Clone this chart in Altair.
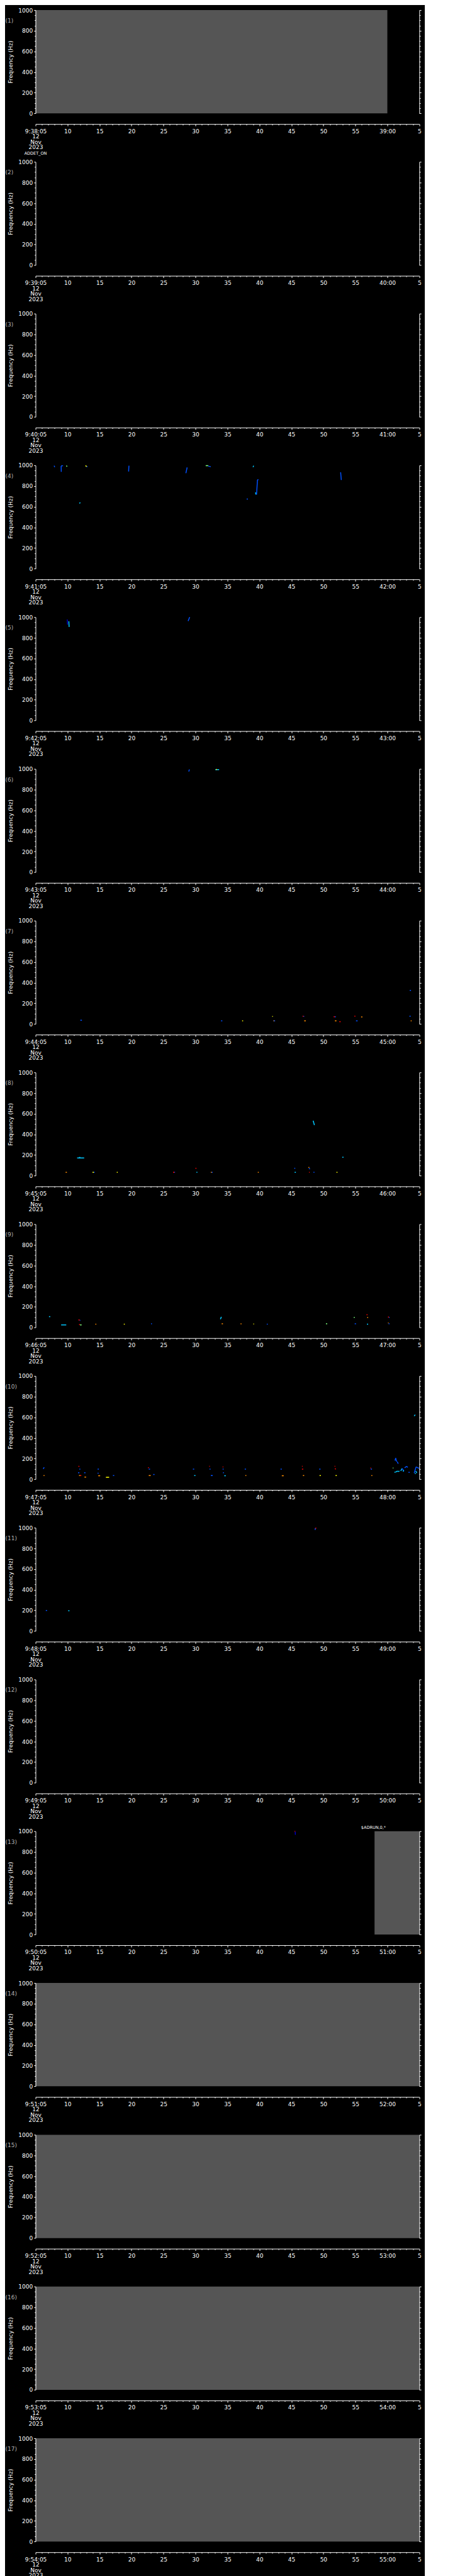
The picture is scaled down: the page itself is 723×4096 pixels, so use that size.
import altair as alt
import pandas as pd

S = 0.705
PLOT_W = 865 * S
PLOT_H = 233 * S
PITCH = 341.25 * S

panel_ids = [1, 2, 3, 4, 5, 6, 7, 8, 9, 10, 11, 12, 13, 14, 15, 16, 17]
start_labels = ["9:38:05", "9:39:05", "9:40:05", "9:41:05", "9:42:05", "9:43:05",
                "9:44:05", "9:45:05", "9:46:05", "9:47:05", "9:48:05", "9:49:05",
                "9:50:05", "9:51:05", "9:52:05", "9:53:05", "9:54:05"]
minute_labels = ["39:00", "40:00", "41:00", "42:00", "43:00", "44:00", "45:00", "46:00",
                 "47:00", "48:00", "49:00", "50:00", "51:00", "52:00", "53:00", "54:00", "55:00"]
date_lines = ["12", "Nov", "2023"]
x_tick_values = [0, 1, 2, 3, 4, 5, 6, 7, 8, 9, 10, 11, 12, 13, 14, 15, 16, 17, 18, 19, 20,
                 21, 22, 23, 24, 25, 26, 27, 28, 29, 30, 31, 32, 33, 34, 35, 36, 37, 38, 39, 40,
                 41, 42, 43, 44, 45, 46, 47, 48, 49, 50, 51, 52, 53, 54, 55, 56, 57, 58, 59, 60]
y_tick_values = [0, 50, 100, 150, 200, 250, 300, 350, 400, 450, 500, 550, 600, 650, 700,
                 750, 800, 850, 900, 950, 1000]

# grey "no data" blocks: panel, start/end (s after panel start), freq range
gray_panel = [1, 13, 14, 15, 16, 17]
gray_t0 = [0, 53, 0, 0, 0, 0]
gray_t1 = [55, 60, 60, 60, 60, 60]
gray_f0 = [0, 0, 0, 0, 0, 0]
gray_f1 = [1000, 1000, 1000, 1000, 1000, 1000]

# spectral traces per panel: (t0, t1, f0, f1, level)
p4 = [(2.9, 3.0, 997, 983, "blue"), (4.0, 4.02, 994, 937, "blue"), (4.0, 4.3, 996, 996, "blue"),
      (4.8, 4.95, 996, 990, "green"), (6.85, 7.0, 632, 640, "cyan"), (7.8, 8.0, 997, 988, "yellow"),
      (8.0, 8.1, 990, 985, "blue"), (14.55, 14.6, 940, 997, "blue"), (23.5, 23.7, 925, 980, "blue"),
      (26.6, 27.0, 997, 997, "green"), (27.0, 27.4, 993, 987, "blue"), (33.0, 33.2, 674, 674, "blue"),
      (34.0, 34.1, 983, 997, "cyan"), (34.4, 34.45, 739, 717, "cyan"), (34.55, 34.7, 717, 861, "blue"),
      (34.7, 34.85, 861, 861, "blue"), (47.7, 47.8, 933, 858, "blue")]
p5 = [(4.95, 5.0, 977, 927, "dkblue"), (5.2, 5.25, 960, 905, "cyan"), (23.85, 24.1, 962, 1000, "blue")]
p6 = [(23.95, 24.05, 975, 994, "blue"), (28.1, 28.7, 993, 993, "cyan"), (28.2, 28.35, 995, 995, "yellow")]
p7 = [(7.0, 7.25, 36, 36, "blue"), (29.0, 29.2, 30, 30, "blue"), (32.3, 32.45, 30, 30, "yellow"),
      (37.0, 37.1, 72, 72, "yellow"), (37.2, 37.45, 30, 30, "blue"), (37.2, 37.3, 30, 30, "orange"),
      (41.75, 41.9, 75, 75, "red"), (41.9, 42.0, 72, 72, "blue"), (42.0, 42.25, 30, 30, "orange"),
      (46.6, 46.8, 70, 70, "red"), (46.8, 46.95, 70, 70, "blue"), (46.8, 47.05, 30, 30, "orange"),
      (47.5, 47.7, 22, 22, "red"), (49.85, 50.0, 75, 75, "red"), (50.1, 50.35, 30, 30, "blue"),
      (50.9, 51.1, 68, 68, "orange"), (58.5, 58.7, 325, 325, "blue"), (58.45, 58.65, 75, 75, "blue"),
      (58.65, 58.8, 30, 30, "orange")]
p8 = [(6.5, 7.6, 172, 172, "cyan"), (6.8, 7.0, 177, 177, "cyan"), (4.7, 4.9, 33, 33, "orange"),
      (8.9, 9.1, 33, 33, "yellow"), (9.1, 9.25, 33, 33, "blue"), (12.7, 12.85, 33, 33, "yellow"),
      (21.5, 21.7, 33, 33, "red"), (21.7, 21.8, 33, 33, "blue"), (25.0, 25.15, 72, 72, "red"),
      (25.15, 25.3, 33, 33, "cyan"), (27.4, 27.55, 33, 33, "orange"), (27.55, 27.7, 33, 33, "blue"),
      (34.75, 34.9, 33, 33, "orange"), (40.45, 40.6, 72, 72, "blue"), (40.5, 40.7, 33, 33, "cyan"),
      (42.65, 42.8, 80, 80, "orange"), (42.75, 42.9, 72, 65, "blue"), (42.75, 42.85, 33, 33, "red"),
      (43.4, 43.6, 533, 490, "cyan"), (43.45, 43.6, 33, 33, "blue"), (47.05, 47.2, 33, 33, "yellow"),
      (47.95, 48.15, 179, 179, "cyan")]
p9 = [(2.1, 2.3, 105, 105, "cyan"), (4.0, 4.8, 25, 25, "cyan"), (6.7, 6.9, 73, 73, "red"),
      (6.9, 7.0, 68, 68, "blue"), (6.8, 6.95, 29, 29, "red"), (6.95, 7.2, 25, 25, "green"),
      (9.35, 9.5, 32, 32, "orange"), (13.8, 13.95, 32, 32, "yellow"), (18.05, 18.2, 36, 36, "blue"),
      (28.9, 29.05, 80, 103, "cyan"), (29.1, 29.3, 36, 36, "orange"), (32.05, 32.2, 36, 36, "orange"),
      (34.05, 34.15, 34, 34, "yellow"), (36.15, 36.3, 32, 32, "blue"), (45.4, 45.6, 36, 36, "green"),
      (49.75, 49.9, 97, 97, "green"), (49.9, 50.1, 36, 36, "blue"), (51.75, 51.9, 124, 124, "red"),
      (51.85, 52.0, 97, 97, "orange"), (51.8, 52.0, 32, 32, "cyan"), (55.1, 55.25, 101, 101, "red"),
      (55.25, 55.35, 97, 97, "blue"), (55.1, 55.2, 44, 44, "orange"), (55.2, 55.35, 36, 36, "blue")]
p10 = [(1.2, 1.35, 100, 115, "blue"), (1.25, 1.4, 36, 36, "orange"), (6.7, 6.85, 125, 125, "red"),
       (6.85, 7.0, 98, 98, "blue"), (6.65, 6.85, 63, 63, "blue"), (6.8, 7.0, 36, 36, "orange"),
       (7.0, 7.15, 36, 36, "red"), (7.6, 7.8, 63, 63, "blue"), (7.65, 7.9, 21, 21, "orange"),
       (9.7, 9.9, 98, 98, "blue"), (9.7, 9.85, 59, 59, "blue"), (9.8, 10.1, 34, 34, "orange"),
       (11.0, 11.5, 19, 19, "yellow"), (12.1, 12.3, 36, 36, "blue"), (17.6, 17.7, 115, 109, "red"),
       (17.7, 17.9, 98, 98, "blue"), (17.7, 18.0, 36, 36, "orange"), (18.4, 18.6, 46, 46, "blue"),
       (24.6, 24.8, 98, 98, "blue"), (24.8, 25.0, 36, 36, "cyan"), (27.15, 27.25, 125, 125, "red"),
       (27.2, 27.35, 98, 98, "blue"), (27.4, 27.7, 36, 36, "blue"), (29.25, 29.35, 119, 119, "red"),
       (29.25, 29.4, 98, 98, "blue"), (29.3, 29.45, 63, 63, "blue"), (29.5, 29.75, 34, 34, "cyan"),
       (32.7, 32.9, 98, 98, "blue"), (32.8, 32.95, 36, 36, "orange"), (38.3, 38.5, 98, 98, "blue"),
       (38.5, 38.8, 34, 34, "orange"), (41.65, 41.75, 125, 125, "red"), (41.65, 41.85, 98, 98, "red"),
       (41.8, 42.0, 36, 36, "orange"), (44.35, 44.55, 98, 98, "blue"), (44.4, 44.6, 36, 36, "yellow"),
       (46.75, 46.85, 125, 125, "red"), (46.8, 46.95, 104, 98, "red"), (46.9, 47.1, 36, 36, "yellow"),
       (52.35, 52.45, 109, 109, "red"), (52.4, 52.6, 98, 98, "blue"), (52.5, 52.65, 36, 36, "orange"),
       (55.85, 55.95, 109, 109, "green"), (56.2, 56.3, 180, 205, "blue"), (56.3, 56.45, 205, 170, "blue"),
       (56.55, 56.7, 170, 150, "blue"), (56.1, 56.3, 67, 70, "cyan"), (56.3, 56.6, 70, 80, "cyan"),
       (56.6, 56.9, 75, 78, "cyan"), (57.1, 57.3, 80, 105, "cyan"), (57.3, 57.6, 105, 80, "blue"),
       (57.4, 57.6, 80, 80, "cyan"), (57.7, 58.0, 110, 125, "blue"), (58.0, 58.2, 125, 115, "blue"),
       (58.3, 58.5, 67, 67, "blue"), (59.2, 59.35, 612, 625, "cyan"), (59.2, 59.5, 60, 120, "blue"),
       (59.5, 59.8, 120, 110, "blue"), (59.8, 60.0, 110, 105, "blue"), (59.3, 59.45, 55, 55, "cyan"),
       (59.45, 59.6, 80, 60, "cyan")]
p11 = [(1.6, 1.8, 199, 199, "blue"), (5.1, 5.3, 196, 196, "cyan"), (43.7, 43.75, 979, 996, "blue"),
       (43.75, 43.9, 996, 996, "red")]
p13 = [(40.5, 40.6, 998, 998, "red"), (40.6, 40.62, 995, 965, "dkblue")]
segments = {4: p4, 5: p5, 6: p6, 7: p7, 8: p8, 9: p9, 10: p10, 11: p11, 13: p13}

level_names = ["dkblue", "blue", "cyan", "green", "yellow", "orange", "red"]
level_colors = ["#0000c0", "#0050ff", "#00c8ff", "#7dff7d", "#ffff00", "#ff8c00", "#ff0000"]

top_note_panel = 13
top_note_text = "$ADRUN,0,*"
top_note_t = 50.9
bottom_note_text = "ADDET_ON"

rows = []
for k, segs in segments.items():
    for (a, b, c, d, lv) in segs:
        rows.append({"panel": k, "t0": a, "t1": b, "f0": c, "f1": d, "level": lv})
seg_df = pd.DataFrame(rows)
gray_df = pd.DataFrame({"panel": gray_panel, "t0": gray_t0, "t1": gray_t1,
                        "f0": gray_f0, "f1": gray_f1})

FONT = "DejaVu Sans"
xscale = alt.Scale(domain=[0, 60], nice=False, zero=False)
yscale = alt.Scale(domain=[0, 1000], nice=False, zero=True)
cscale = alt.Scale(domain=level_names, range=level_colors)


def make_panel(i, k):
    start = start_labels[i]
    minute = minute_labels[i]
    first = "[" + ", ".join("'" + s + "'" for s in [start] + date_lines) + "]"
    label_expr = (f"datum.value == 0 ? {first} : datum.value == 55 ? '{minute}' : "
                  f"datum.value == 60 ? '5' : datum.value % 5 == 0 ? '' + (datum.value + 5) : ''")

    def x_axis():
        # identical x axis on every layer that uses the x scale, so they merge into one
        return alt.Axis(orient="bottom", offset=24 * S, values=x_tick_values, labelExpr=label_expr,
                        tickSize={"condition": {"test": "datum.value % 5 == 0", "value": 3.0}, "value": 1.6},
                        labelPadding=4, labelOverlap=False, labelFlush=False, labelBound=False,
                        labelLineHeight=8.5, labelBaseline="top", title=None, zindex=2)

    y_left = alt.Axis(orient="left", values=y_tick_values, format="d",
                      labelExpr="datum.value % 200 == 0 ? datum.label : ''",
                      tickSize={"condition": {"test": "datum.value % 200 == 0", "value": 2.8}, "value": 1.8},
                      labelPadding=2, labelOverlap=False, labelBound=False, labelFlush=False,
                      title="Frequency (Hz)", titleX=-40.4, titleY=PLOT_H / 2, titleAngle=270,
                      titleAlign="center", titleBaseline="middle", zindex=2)
    y_right = alt.Axis(orient="right", values=y_tick_values, labels=False, title=None,
                       tickSize={"condition": {"test": "datum.value % 200 == 0", "value": 2.8}, "value": 1.8},
                       zindex=2)

    gray = alt.Chart(gray_df).transform_filter(alt.datum.panel == k).mark_rect(
        color="#555555").encode(
        x=alt.X("t0:Q", scale=xscale, axis=x_axis()), x2="t1:Q",
        y=alt.Y("f0:Q", scale=yscale, axis=None), y2="f1:Q")
    seg = alt.Chart(seg_df).transform_filter(alt.datum.panel == k).mark_rule(
        strokeWidth=1.5).encode(
        x=alt.X("t0:Q", scale=xscale, axis=x_axis()), x2="t1:Q",
        y=alt.Y("f0:Q", scale=yscale, axis=y_left), y2="f1:Q",
        color=alt.Color("level:N", scale=cscale, legend=None))
    right = alt.Chart(gray_df).transform_filter(alt.datum.panel == k).mark_point(
        opacity=0).encode(
        x=alt.X("t0:Q", scale=xscale, axis=x_axis()),
        y=alt.Y("f0:Q", scale=yscale, axis=y_right))
    lab = alt.Chart(pd.DataFrame({"lab": [f"({k})"]})).mark_text(
        align="left", baseline="middle", color="#b4b4b4", font=FONT, fontSize=9).encode(
        text="lab:N", x=alt.value(-47.9), y=alt.value(24 * S))
    layers = [gray, seg, right, lab]
    if k == 1:
        layers.append(alt.Chart(pd.DataFrame({"t": [bottom_note_text]})).mark_text(
            align="center", baseline="middle", color="white", font=FONT, fontSize=6.5).encode(
            text="t:N", x=alt.value(0), y=alt.value(PLOT_H + 90.5 * S)))
    if k == top_note_panel:
        layers.append(alt.Chart(pd.DataFrame({"t": [top_note_text], "x": [top_note_t]})).mark_text(
            align="left", baseline="middle", color="white", font=FONT, fontSize=6.5).encode(
            text="t:N", x=alt.X("x:Q", scale=xscale, axis=x_axis()), y=alt.value(-8.5 * S)))
    return alt.layer(*layers).resolve_axis(y="independent").properties(
        width=PLOT_W, height=PLOT_H)


panels = [make_panel(i, k) for i, k in enumerate(panel_ids)]
chart = alt.vconcat(*panels, spacing=PITCH - PLOT_H, bounds="flush").configure(
    background="black", padding={"left": 0.5, "top": 4, "right": 5, "bottom": 10}
).configure_view(stroke=None).configure_axis(
    labelColor="white", labelFont=FONT, labelFontSize=9, domainColor="white", tickColor="white",
    titleColor="white", titleFont=FONT, titleFontSize=9, titleFontWeight="normal", grid=False,
    domainWidth=1, tickWidth=1)

chart.save("out.html", embed_options={"renderer": "svg", "actions": False})
